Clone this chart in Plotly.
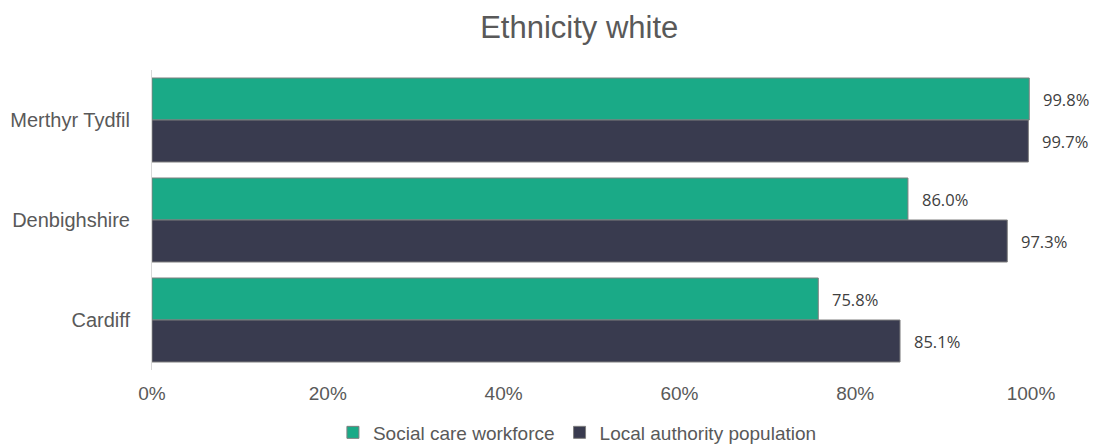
import plotly.graph_objects as go

areas = ["Merthyr Tydfil", "Denbighshire", "Cardiff"]
workforce = [0.998, 0.860, 0.758]
population = [0.997, 0.973, 0.851]
x_ticks = [0, 0.2, 0.4, 0.6, 0.8, 1.0]
x_tick_labels = ["0%", "20%", "40%", "60%", "80%", "100%"]

GREEN = "#1aaa87"
NAVY = "#393b4f"
EDGE = "#7f7f7f"

fig = go.Figure()
fig.add_trace(go.Bar(
    name="Social care workforce", y=areas, x=workforce, orientation="h",
    marker=dict(color=GREEN, line=dict(color=EDGE, width=1)),
))
fig.add_trace(go.Bar(
    name="Local authority population", y=areas, x=population, orientation="h",
    marker=dict(color=NAVY, line=dict(color=EDGE, width=1)),
))

# value labels placed just right of each bar end
for i, vals in enumerate([workforce, population]):
    for area, v in zip(areas, vals):
        fig.add_annotation(
            x=v, y=area, xref="x", yref="y", text=f"{v*100:.1f}%",
            showarrow=False, xanchor="left", xshift=12,
            yshift=21 if i == 0 else -21,
            font=dict(family="Open Sans", size=16.5, color="#404040"),
        )

fig.update_layout(
    width=1095, height=446,
    margin=dict(l=152, r=64, t=70, b=76, autoexpand=False),
    paper_bgcolor="white", plot_bgcolor="white",
    barmode="group", bargap=0.16, bargroupgap=0,
    title=dict(text="Ethnicity white", x=0.529, xanchor="center", y=0.94, yanchor="middle",
               font=dict(family="Liberation Sans", size=31, color="#595959")),
    legend=dict(orientation="h", x=0.484, xanchor="center", y=-0.145, yanchor="top",
                font=dict(family="Liberation Sans", size=19, color="#595959"),
                traceorder="normal", itemwidth=30),
    showlegend=True,
)
fig.update_xaxes(range=[0, 1.0], tickvals=x_ticks, ticktext=x_tick_labels,
                 showgrid=False, zeroline=False, showline=False, ticks="",
                 ticklabelstandoff=10, automargin=False,
                 tickfont=dict(family="Liberation Sans", size=19, color="#595959"))
fig.update_yaxes(categoryorder="array", categoryarray=areas, autorange="reversed",
                 showgrid=False, showline=True, linecolor="#d9d9d9", linewidth=1,
                 ticks="", ticklabelstandoff=17, automargin=False,
                 tickfont=dict(family="Liberation Sans", size=20, color="#595959"))

fig.write_html("out.html")
